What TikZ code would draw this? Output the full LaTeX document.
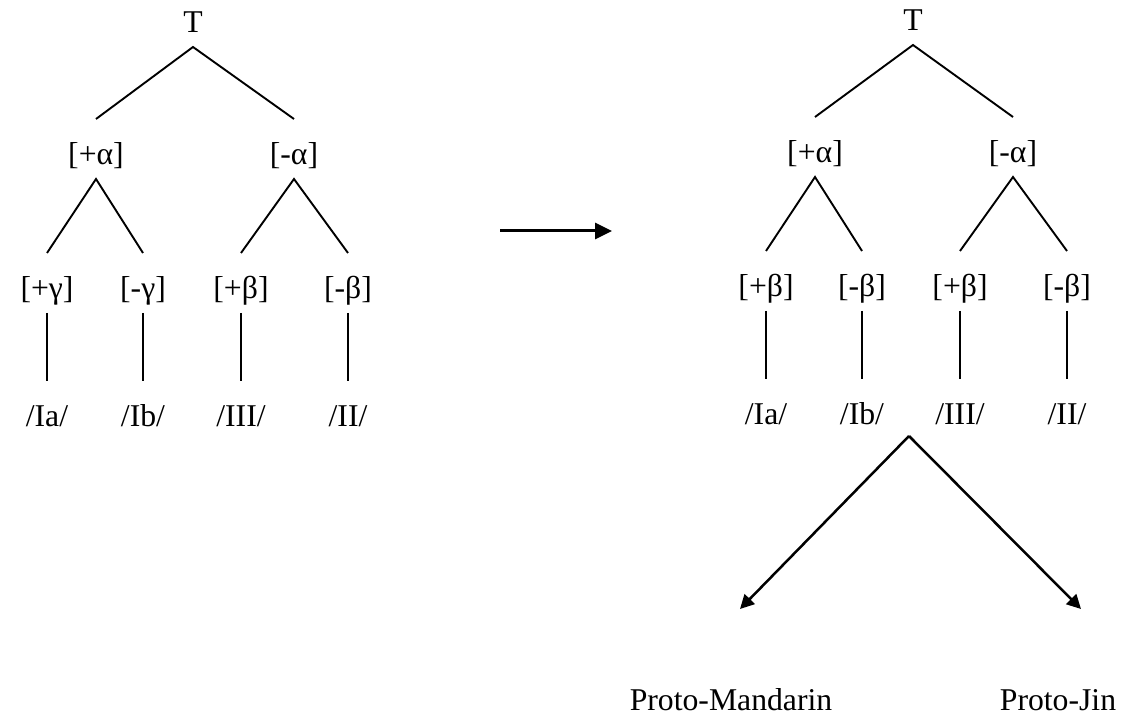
\documentclass[tikz,border=0pt]{standalone}
\usepackage{fontspec}
\setmainfont{Liberation Serif}
\usetikzlibrary{arrows.meta}
\tikzset{
  trlabel/.style={anchor=base, inner sep=0pt, outer sep=0pt, text height=23pt, text depth=7pt, font=\fontsize{15.85}{19}\selectfont},
  trline/.style={line width=0.95pt},
  trarrow/.style={-{Triangle[length=8.5pt,width=8pt]}, line width=1.5pt},
  trsplit/.style={-{Triangle[length=7pt,width=7pt]}, line width=1.25pt}
}
\begin{document}
\begin{tikzpicture}[x=0.5pt, y=-0.5pt]
  \useasboundingbox (0,0) rectangle (1141,715);
  % left tree
  \node[trlabel] (lt) at (193,33) {T};
  \node[trlabel] (lpa) at (96,165) {[+α]};
  \node[trlabel] (lma) at (294,165) {[-α]};
  \node[trlabel] (lpg) at (47,299) {[+γ]};
  \node[trlabel] (lmg) at (143,299) {[-γ]};
  \node[trlabel] (lpb) at (241,299) {[+β]};
  \node[trlabel] (lmb) at (348,299) {[-β]};
  \node[trlabel] (lia) at (47,427) {/Ia/};
  \node[trlabel] (lib) at (143,427) {/Ib/};
  \node[trlabel] (liii) at (241,427) {/III/};
  \node[trlabel] (lii) at (348,427) {/II/};
  \draw[trline] (lpa.north) -- (lt.south) -- (lma.north);
  \draw[trline] (lpg.north) -- (lpa.south) -- (lmg.north);
  \draw[trline] (lpb.north) -- (lma.south) -- (lmb.north);
  \draw[trline] (lpg) -- (lia);
  \draw[trline] (lmg) -- (lib);
  \draw[trline] (lpb) -- (liii);
  \draw[trline] (lmb) -- (lii);

  % middle arrow
  \coordinate (mfrom) at (500,231);
  \coordinate (mto) at (612,231);
  \draw[trarrow] (mfrom) -- (mto);

  % right tree
  \node[trlabel] (rt) at (913,31) {T};
  \node[trlabel] (rpa) at (815,163) {[+α]};
  \node[trlabel] (rma) at (1013,163) {[-α]};
  \node[trlabel] (rpb1) at (766,297) {[+β]};
  \node[trlabel] (rmb1) at (862,297) {[-β]};
  \node[trlabel] (rpb2) at (960,297) {[+β]};
  \node[trlabel] (rmb2) at (1067,297) {[-β]};
  \node[trlabel] (ria) at (766,425) {/Ia/};
  \node[trlabel] (rib) at (862,425) {/Ib/};
  \node[trlabel] (riii) at (960,425) {/III/};
  \node[trlabel] (rii) at (1067,425) {/II/};
  \draw[trline] (rpa.north) -- (rt.south) -- (rma.north);
  \draw[trline] (rpb1.north) -- (rpa.south) -- (rmb1.north);
  \draw[trline] (rpb2.north) -- (rma.south) -- (rmb2.north);
  \draw[trline] (rpb1) -- (ria);
  \draw[trline] (rmb1) -- (rib);
  \draw[trline] (rpb2) -- (riii);
  \draw[trline] (rmb2) -- (rii);

  % split into the two proto-languages
  \coordinate (split) at (909,436);
  \coordinate (mandend) at (740,609);
  \coordinate (jinend) at (1081,609);
  \node[trlabel] (mand) at (731,711) {Proto-Mandarin};
  \node[trlabel] (jin) at (1058,711) {Proto-Jin};
  \draw[trsplit] (split) -- (mandend);
  \draw[trsplit] (split) -- (jinend);
\end{tikzpicture}
\end{document}
